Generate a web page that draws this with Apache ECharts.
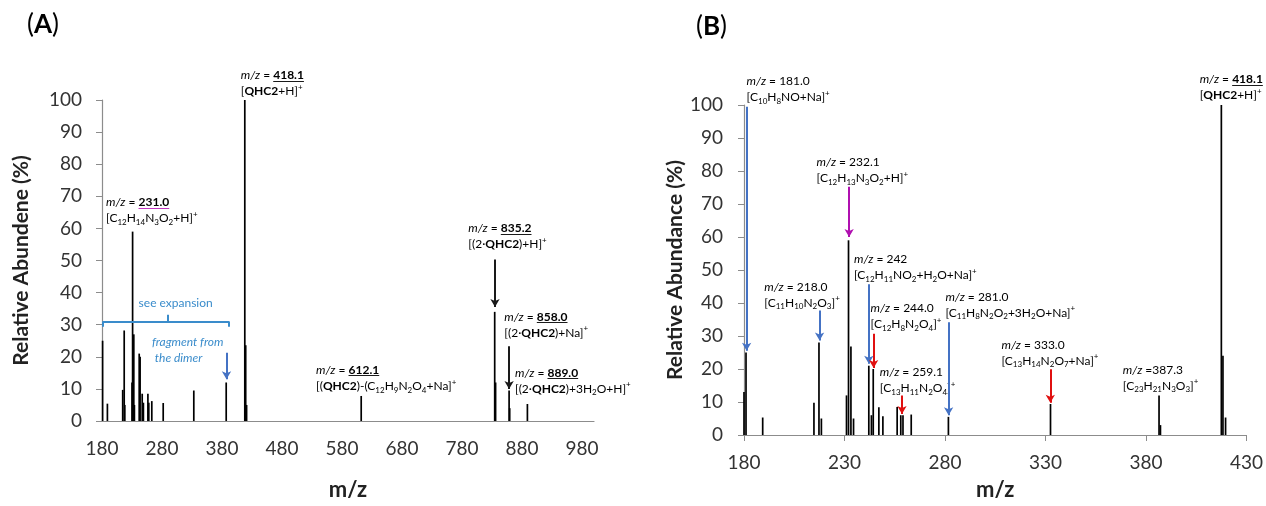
<!DOCTYPE html>
<html>
<head>
<meta charset="utf-8">
<script src="https://cdn.jsdelivr.net/npm/echarts@6/dist/echarts.min.js"></script>
<style>
html,body{margin:0;padding:0;background:#fff;}
#c{width:1266px;height:506px;}
</style>
</head>
<body>
<div id="c"></div>
<script>
// ---------- DATA ----------
// Panel A: full spectrum
const aMz  = [181, 189, 214.5, 217, 218, 230, 231, 233, 234, 242, 243.5, 247, 249, 256.5, 258, 263, 282, 333, 387, 418, 419.5, 421, 612, 834.5, 836, 858.5, 859.5, 889];
const aInt = [25, 5.4, 9.7, 28.2, 5, 12, 59, 27, 5, 21, 20, 8.5, 5.7, 8.5, 5.7, 6.2, 5.6, 9.5, 12, 100, 23.6, 5, 7.8, 34, 12, 9.5, 4, 5.3];
// Panel B: expansion 180-430
const bMz  = [180, 181, 189.3, 214.8, 217.3, 218.5, 231, 232, 233.2, 234.5, 242.1, 243.4, 244.3, 247.1, 249.1, 256.2, 258, 259.1, 263.2, 281.7, 332.5, 386.5, 387.2, 417.5, 418.3, 419.6];
const bInt = [13, 25, 5.3, 9.8, 28, 5, 12, 59, 26.8, 5, 21, 6, 20, 8.4, 5.7, 8.5, 6, 6, 6.2, 5.5, 9.4, 12, 3, 100, 24, 5.3];

const aXTicks = {min: 180, max: 1000, interval: 100};
const bXTicks = {min: 180, max: 430, interval: 50};
const yTicks  = {min: 0, max: 100, interval: 10};

// Arrows [x, yFrom, yTo, colourKey]
const aArrows = [[835, 50.3, 35.5, 'k'], [858.5, 23.3, 10, 'k'], [387.5, 21.3, 13, 'ba']];
const bArrows = [[181.3, 99.5, 25.5, 'ba'], [232.3, 75.2, 60, 'ma'], [217.6, 37.7, 28.6, 'ba'],
                 [242.1, 45.7, 21.6, 'ba'], [244.5, 30.7, 20.3, 'ra'], [258.6, 12, 6.4, 'ra'],
                 [281.8, 34.2, 6, 'ba'], [332.4, 19.9, 9.8, 'ra']];
// bracket "see expansion" (panel A)
const bracket = {x0: 181, x1: 392, xm: 288.8, y: 31, yEnd: 29.4, yTop: 33.1};

// annotations: top-left anchor in data coords
const aNotes = [
  {x: 411.2, y: 110.1, lines: [['m/z = #418.1#', 'k'], ['[*QHC2*+H]^+', 'k']]},
  {x: 186.7, y: 70.6, lines: [['m/z = #231.0#', 'm'], ['[C_12H_14N_3O_2+H]^+', 'm']]},
  {x: 790.5, y: 62.6, lines: [['m/z = #835.2#', 'k'], ['[(2·*QHC2*)+H]^+', 'k']]},
  {x: 850.5, y: 35, lines: [['m/z = #858.0#', 'k'], ['[(2·*QHC2*)+Na]^+', 'k']]},
  {x: 868.3, y: 17.5, lines: [['m/z = #889.0#', 'k'], ['[(2·*QHC2*)+3H_2O+H]^+', 'k']]},
  {x: 536.7, y: 18.4, lines: [['m/z = #612.1#', 'k'], ['[(*QHC2*)-(C_12H_9N_2O_4+Na]^+', 'k']]}
];
const bNotes = [
  {x: 181.3, y: 109.6, lines: [['m/z = 181.0', 'b'], ['[C_10H_8NO+Na]^+', 'm']]},
  {x: 216.1, y: 85, lines: [['m/z = 232.1', 'm'], ['[C_12H_13N_3O_2+H]^+', 'm']]},
  {x: 234.7, y: 55.7, lines: [['m/z = 242', 'b'], ['[C_12H_11NO_2+H_2O+Na]^+', 'b']]},
  {x: 190.1, y: 47.3, lines: [['m/z = 218.0', 'b'], ['[C_11H_10N_2O_3]^+', 'b']]},
  {x: 243, y: 40.9, lines: [['m/z = 244.0', 'r'], ['[C_12H_8N_2O_4]^+', 'r']]},
  {x: 247.6, y: 21.5, lines: [['m/z = 259.1', 'r'], ['[C_13H_11N_2O_4]^+', 'r']]},
  {x: 280.2, y: 44.3, lines: [['m/z = 281.0', 'b'], ['[C_11H_8N_2O_2+3H_2O+Na]^+', 'b']]},
  {x: 308.1, y: 29.8, lines: [['m/z = 333.0', 'r'], ['[C_13H_14N_2O_7+Na]^+', 'r']]},
  {x: 368.5, y: 22.2, lines: [['m/z =387.3', 'k'], ['[C_23H_21N_3O_3]^+', 'k']]},
  {x: 406.7, y: 110.3, lines: [['m/z = #418.1#', 'k'], ['[*QHC2*+H]^+', 'k']]}
];

// ---------- STYLE ----------
const FONT = 'Lato';
const FS = 12, LH = 16;
const COL = {k: '#1a1a1a', m: '#c236c2', b: '#3a8ccb', r: '#e2342c',
             ba: '#4472c4', ma: '#b010b0', ra: '#e01010'};
const AXC = '#8c8c8c';

function richStyles() {
  const r = {};
  for (const c of ['k', 'm', 'b', 'r']) {
    const col = COL[c];
    r['n' + c] = {fontFamily: FONT, fontSize: FS, lineHeight: LH, color: col};
    r['i' + c] = {fontFamily: FONT, fontSize: FS, lineHeight: LH, color: col, fontStyle: 'italic'};
    r['b' + c] = {fontFamily: FONT, fontSize: FS, lineHeight: LH, color: col, fontWeight: 'bold'};
    r['u' + c] = {fontFamily: FONT, fontSize: FS, lineHeight: LH, color: col, fontWeight: 'bold'};
    r['d' + c] = {fontFamily: FONT, fontSize: 8, lineHeight: 9, verticalAlign: 'bottom', color: col};
    r['p' + c] = {fontFamily: FONT, fontSize: 8, lineHeight: 10, verticalAlign: 'top', color: col};
  }
  return r;
}
const RICH = richStyles();

const RE = /\*([^*]+)\*|#([^#]+)#|_(\d+)|\^(\+)|(m\/z)/g;
function tokens(line) {
  const out = []; let last = 0, mm;
  RE.lastIndex = 0;
  while ((mm = RE.exec(line))) {
    if (mm.index > last) out.push(['n', line.slice(last, mm.index)]);
    if (mm[1]) out.push(['b', mm[1]]);
    else if (mm[2]) out.push(['u', mm[2]]);
    else if (mm[3]) out.push(['d', mm[3]]);
    else if (mm[4]) out.push(['p', '+']);
    else out.push(['i', 'm/z']);
    last = RE.lastIndex;
  }
  if (last < line.length) out.push(['n', line.slice(last)]);
  return out;
}
function toRich(line, c) {
  return tokens(line).map(t => `{${t[0]}${c}|${t[1]}}`).join('');
}
const mctx = document.createElement('canvas').getContext('2d');
function tokWidth(t) {
  const s = t[0];
  const size = (s === 'd' || s === 'p') ? 8 : FS;
  mctx.font = (s === 'i' ? 'italic ' : '') + ((s === 'b' || s === 'u') ? 'bold ' : '') + size + 'px ' + FONT;
  return mctx.measureText(t[1]).width;
}

function peakSeries(mz, ints, gi) {
  return {
    type: 'custom', xAxisIndex: gi, yAxisIndex: gi, silent: true,
    data: mz.map((m, i) => [m, ints[i]]),
    renderItem: (params, api) => {
      const p0 = api.coord([api.value(0), 0]);
      const p1 = api.coord([api.value(0), api.value(1)]);
      return {type: 'line', shape: {x1: p0[0], y1: p0[1], x2: p1[0], y2: p1[1]},
              style: {stroke: '#000', lineWidth: 1.7}};
    }
  };
}

function arrowSeries(arrows, gi) {
  const data = arrows.map(a => [
    {coord: [a[0], a[1]], lineStyle: {color: COL[a[3]] || '#000'}},
    {coord: [a[0], a[2]]}
  ]);
  return {
    type: 'line', xAxisIndex: gi, yAxisIndex: gi, data: [], silent: true,
    markLine: {silent: true, animation: false, symbol: ['none', 'arrow'], symbolSize: [7, 8],
      label: {show: false}, lineStyle: {type: 'solid', width: 2},
      emphasis: {disabled: true}, data: data}
  };
}

function bracketSeries(gi) {
  const bc = COL.b, B = bracket;
  const seg = (x1, y1, x2, y2) => [{coord: [x1, y1], lineStyle: {color: bc}}, {coord: [x2, y2]}];
  return {
    type: 'line', xAxisIndex: gi, yAxisIndex: gi, data: [], silent: true,
    markLine: {silent: true, animation: false, symbol: ['none', 'none'], label: {show: false},
      lineStyle: {type: 'solid', width: 2}, emphasis: {disabled: true},
      data: [seg(B.x0, B.y, B.x1, B.y), seg(B.x0, B.y, B.x0, B.yEnd), seg(B.x1, B.y, B.x1, B.yEnd),
             seg(B.xm, B.y, B.xm, B.yTop)]}
  };
}

function yAxis(gi, name, gap, margin) {
  return {
    type: 'value', gridIndex: gi, min: yTicks.min, max: yTicks.max, interval: yTicks.interval,
    name: name, nameLocation: 'middle', nameGap: gap,
    nameTextStyle: {fontFamily: FONT, fontWeight: 'bold', fontSize: 21, color: '#222'},
    axisLine: {show: true, lineStyle: {color: AXC, width: 1.2}},
    axisTick: {show: true, length: 6, lineStyle: {color: AXC}},
    axisLabel: {fontFamily: FONT, fontSize: 19, color: '#333', margin: margin},
    splitLine: {show: false}
  };
}
function xAxis(gi, t, gap, ticks) {
  return {
    type: 'value', gridIndex: gi, min: t.min, max: t.max, interval: t.interval,
    name: 'm/z', nameLocation: 'middle', nameGap: gap,
    nameTextStyle: {fontFamily: FONT, fontWeight: 'bold', fontSize: 22, color: '#222'},
    axisLine: {show: true, onZero: false, lineStyle: {color: AXC, width: 1.2}},
    axisTick: {show: ticks, length: 6, lineStyle: {color: AXC}},
    axisLabel: {fontFamily: FONT, fontSize: 19, color: '#333', margin: 18,
                showMaxLabel: (t.max - t.min) % t.interval === 0},
    splitLine: {show: false}
  };
}

const chart = echarts.init(document.getElementById('c'), null, {renderer: 'canvas'});
chart.setOption({
  animation: false,
  backgroundColor: '#fff',
  grid: [
    {left: 102, top: 100, width: 492, height: 326},
    {left: 744, top: 105, width: 503, height: 336}
  ],
  xAxis: [xAxis(0, aXTicks, 58, false), xAxis(1, bXTicks, 44, true)],
  yAxis: [yAxis(0, 'Relative Abundene (%)', 70, 20), yAxis(1, 'Relative Abundance (%)', 52, 21)],
  series: [
    peakSeries(aMz, aInt, 0), peakSeries(bMz, bInt, 1),
    arrowSeries(aArrows, 0), arrowSeries(bArrows, 1), bracketSeries(0)
  ]
});

// text annotations positioned through the axes' scales, with underlines for the bold values
function noteGraphics(notes, gi) {
  const out = [];
  notes.forEach(n => {
    const p = chart.convertToPixel({gridIndex: gi}, [n.x, n.y]);
    out.push({type: 'text', x: p[0], y: p[1], silent: true,
      style: {text: n.lines.map(l => toRich(l[0], l[1])).join('\n'), rich: RICH,
              align: 'left', verticalAlign: 'top'}});
    n.lines.forEach((l, li) => {
      let x = p[0];
      tokens(l[0]).forEach(t => {
        const w = tokWidth(t);
        if (t[0] === 'u') {
          const yy = Math.round(p[1] + li * LH + 13.5) + 0.5;
          out.push({type: 'line', silent: true,
            shape: {x1: x, y1: yy, x2: x + w, y2: yy},
            style: {stroke: COL[l[1]], lineWidth: 1}});
        }
        x += w;
      });
    });
  });
  return out;
}
const pExp = chart.convertToPixel({gridIndex: 0}, [302.8, 36.6]);
const pFrag = chart.convertToPixel({gridIndex: 0}, [263.3, 27.2]);
chart.setOption({
  graphic: [
    ...noteGraphics(aNotes, 0), ...noteGraphics(bNotes, 1),
    {type: 'text', x: pExp[0], y: pExp[1], silent: true,
     style: {text: 'see expansion', fontFamily: FONT, fontSize: 12, fill: COL.b, align: 'center', verticalAlign: 'middle'}},
    {type: 'text', x: pFrag[0], y: pFrag[1], silent: true,
     style: {text: 'fragment from\n the dimer', fontFamily: FONT, fontSize: 12, fontStyle: 'italic', lineHeight: 16,
             fill: COL.b, align: 'left', verticalAlign: 'top'}},
    {type: 'text', left: 27, top: 12, silent: true,
     style: {text: '({t|A})', rich: {t: {fontFamily: FONT, fontSize: 26, fontWeight: 'bold', fill: '#000'}},
             fontFamily: FONT, fontSize: 26, fill: '#000'}},
    {type: 'text', left: 696, top: 14, silent: true,
     style: {text: '({t|B})', rich: {t: {fontFamily: FONT, fontSize: 26, fontWeight: 'bold', fill: '#000'}},
             fontFamily: FONT, fontSize: 26, fill: '#000'}}
  ]
});
</script>
</body>
</html>
